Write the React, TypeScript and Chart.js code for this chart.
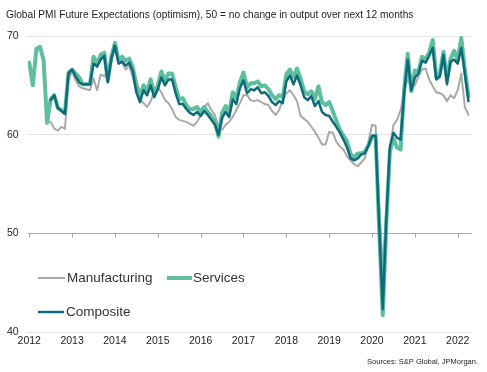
import React, { useEffect, useRef } from "react";
import { Chart, registerables } from "chart.js";

Chart.register(...registerables);

// Monthly data, Jan 2012 .. Apr 2022 (index 0 = Jan 2012)
const startYear = 2012;
const yearLabels = ["2012", "2013", "2014", "2015", "2016", "2017", "2018", "2019", "2020", "2021", "2022"];
const yTicks = [40, 50, 60, 70];

const services: (number | null)[] = [
  67.3, 65.0, 68.7, 68.9, 67.6, 61.2, 63.6, 64.0, 62.7, 62.5, 62.2, 66.3,
  66.6, 66.2, 65.8, 65.1, 65.1, 65.1, 67.9, 67.2, 68.1, 68.3, 65.5, 67.9,
  69.3, 67.6, 67.9, 67.5, 67.7, 66.8, 65.1, 63.9, 65.0, 64.4, 65.6, 64.2,
  65.0, 66.4, 65.5, 66.2, 66.2, 64.8, 63.6, 63.7, 63.0, 62.6, 62.6, 62.8,
  62.3, 62.8, 62.3, 61.9, 61.3, 59.8, 62.2, 62.9, 62.3, 64.3, 63.7, 65.3,
  66.3, 64.8, 65.2, 65.2, 65.4, 64.9, 65.0, 64.6, 64.0, 63.6, 64.0, 63.8,
  66.1, 66.6, 65.8, 66.7, 65.7, 64.4, 64.1, 64.4, 63.6, 64.9, 63.3, 63.0,
  63.3, 62.4, 61.4, 60.5, 59.9, 59.3, 58.0, 57.7, 58.1, 58.1, 58.3, 58.9,
  59.8, 59.9, 50.5, 41.7, 51.0, 58.3, 59.6, 58.7, 58.5, 64.6, 68.2, 64.4,
  66.5, 66.4, 67.9, 67.7, 68.3, 69.6, 65.8, 66.2, 68.4, 65.6, 67.7, 68.5,
  67.6, 69.8, 66.6, 63.9,
];

const composite: (number | null)[] = [
  null, null, null, null, null, null, 63.5, 64.0, 62.7, 62.4, 62.1, 66.2,
  66.6, 65.9, 65.3, 65.1, 65.1, 65.1, 67.2, 66.9, 67.6, 68.0, 65.3, 67.7,
  69.0, 67.2, 67.4, 67.0, 67.3, 66.4, 64.3, 63.3, 64.5, 64.0, 65.0, 63.8,
  64.6, 65.8, 65.0, 65.6, 65.6, 64.2, 63.1, 63.1, 62.6, 62.2, 62.0, 62.3,
  61.9, 62.4, 62.0, 61.5, 61.0, 60.0, 61.7, 62.3, 61.8, 63.6, 63.1, 64.7,
  65.5, 64.2, 64.6, 64.5, 64.8, 64.2, 64.3, 63.9, 63.3, 63.0, 63.4, 63.2,
  65.4, 66.0, 65.1, 66.0, 65.0, 63.8, 63.5, 63.9, 62.9, 63.4, 62.3, 62.0,
  61.9, 61.3, 60.8, 60.2, 59.5, 58.7, 57.6, 57.4, 57.6, 58.0, 58.1, 58.9,
  59.9, 59.9, 51.0, 42.3, 51.5, 58.8, 60.2, 59.7, 59.5, 64.2, 67.6, 64.5,
  65.8, 66.2, 67.5, 67.3, 68.0, 68.8, 65.6, 65.9, 68.1, 65.1, 67.4, 67.6,
  67.2, 68.8, 66.2, 63.4,
];

const manufacturing: (number | null)[] = [
  null, null, null, null, null, 61.3, 61.3, 60.6, 60.4, 60.8, 60.6, 65.6,
  66.4, 65.5, 64.9, 64.7, 64.6, 64.5, 65.7, 64.5, 66.1, 65.9, 66.5, 67.4,
  68.8, 67.9, 67.3, 66.6, 67.0, 65.8, 64.4, 63.6, 63.2, 62.8, 63.4, 64.3,
  64.8, 64.3, 63.5, 63.2, 62.6, 61.8, 61.5, 61.4, 61.3, 61.1, 60.9, 61.3,
  61.9, 62.8, 63.2, 62.5, 62.0, 60.8, 60.5, 61.0, 61.3, 61.8, 62.5, 63.2,
  64.0, 64.0, 63.5, 63.4, 63.5, 63.3, 63.1, 63.0, 62.4, 62.0, 62.5, 63.5,
  64.2, 64.5, 64.0, 63.4, 61.9, 61.6, 61.3, 60.8, 60.3, 59.7, 59.0, 59.0,
  60.3, 60.2, 59.3, 58.8, 58.5, 57.8, 57.4, 57.0, 56.8, 57.2, 57.6, 59.3,
  61.0, 60.9, 53.0, 46.5, 52.5, 58.5, 61.0, 61.5, 62.5, 64.3, 65.8, 64.6,
  65.0, 65.9, 66.6, 66.7, 65.6, 64.9, 64.3, 64.2, 64.0, 63.4, 64.0, 63.7,
  64.5, 66.2, 62.8, 62.0,
];

const COLORS = {
  manufacturing: "#a9a9a9",
  services: "#5dbf9d",
  composite: "#0f6a7c",
  grid: "#e4e4e4",
  axis: "#a6a6a6",
  text: "#1e1e1e",
};

const FONT = '"Liberation Sans", Arial, sans-serif';

const toPoints = (arr: (number | null)[]) => arr.map((v, i) => ({ x: i, y: v }));

const overlayPlugin = {
  id: "overlay",
  beforeDatasetsDraw(chart: any) {
    const { ctx, scales } = chart;
    const xs = scales.x;
    const y50 = scales.y.getPixelForValue(50);
    ctx.save();
    ctx.strokeStyle = COLORS.axis;
    ctx.lineWidth = 1;
    yearLabels.forEach((_, i) => {
      const x = Math.round(xs.getPixelForValue(i * 12)) + 0.5;
      ctx.beginPath();
      ctx.moveTo(x, y50);
      ctx.lineTo(x, y50 + 4);
      ctx.stroke();
    });
    ctx.restore();
  },
  afterDraw(chart: any) {
    const { ctx } = chart;
    ctx.save();
    // Title
    ctx.fillStyle = COLORS.text;
    ctx.font = `10.2px ${FONT}`;
    ctx.textBaseline = "middle";
    ctx.textAlign = "left";
    ctx.fillText(
      "Global PMI Future Expectations (optimism), 50 = no change in output over next 12 months",
      6,
      15
    );
    // Sources
    ctx.font = `7.5px ${FONT}`;
    ctx.textAlign = "right";
    ctx.fillText("Sources: S&P Global, JPMorgan.", 478, 362);

    // Legend
    const items = [
      { label: "Manufacturing", color: COLORS.manufacturing, w: 2, x1: 38, x2: 65, tx: 67, y: 278 },
      { label: "Services", color: COLORS.services, w: 4, x1: 167, x2: 192, tx: 193, y: 278 },
      { label: "Composite", color: COLORS.composite, w: 2.5, x1: 38, x2: 64, tx: 66, y: 312 },
    ];
    ctx.font = `13.5px ${FONT}`;
    ctx.textAlign = "left";
    items.forEach((it) => {
      ctx.strokeStyle = it.color;
      ctx.lineWidth = it.w;
      ctx.lineCap = "butt";
      ctx.beginPath();
      ctx.moveTo(it.x1, it.y);
      ctx.lineTo(it.x2, it.y);
      ctx.stroke();
      ctx.fillStyle = "#333333";
      ctx.fillText(it.label, it.tx, it.y);
    });
    ctx.restore();
  },
};

export default function App() {
  const ref = useRef<HTMLCanvasElement | null>(null);

  useEffect(() => {
    if (!ref.current) return;
    const chart = new Chart(ref.current, {
      type: "line",
      data: {
        datasets: [
          {
            label: "Manufacturing",
            data: toPoints(manufacturing),
            borderColor: COLORS.manufacturing,
            borderWidth: 2,
            order: 3,
          },
          {
            label: "Services",
            data: toPoints(services),
            borderColor: COLORS.services,
            borderWidth: 4,
            order: 2,
          },
          {
            label: "Composite",
            data: toPoints(composite),
            borderColor: COLORS.composite,
            borderWidth: 2.5,
            order: 1,
          },
        ] as any,
      },
      plugins: [overlayPlugin],
      options: {
        animation: false,
        responsive: false,
        devicePixelRatio: 1,
        events: [],
        layout: { padding: { left: 7, right: 15, top: 36, bottom: 22 } },
        elements: {
          point: { radius: 0 },
          line: { tension: 0, borderJoinStyle: "round", borderCapStyle: "round", fill: false },
        },
        plugins: {
          legend: { display: false },
          title: { display: false },
          tooltip: { enabled: false },
        },
        scales: {
          x: {
            type: "linear",
            min: -0.35,
            max: 124,
            grid: { display: false, drawTicks: false },
            border: { display: false },
            afterBuildTicks: (scale: any) => {
              scale.ticks = yearLabels.map((_, i) => ({ value: i * 12 }));
            },
            afterFit: (scale: any) => {
              scale.height = 18;
            },
            ticks: {
              autoSkip: false,
              maxRotation: 0,
              padding: 3,
              color: COLORS.text,
              font: { family: FONT, size: 10.5 },
              callback: (v: any) => String(startYear + Math.round(Number(v) / 12)),
            },
          },
          y: {
            type: "linear",
            min: 40,
            max: 70,
            afterBuildTicks: (scale: any) => {
              scale.ticks = yTicks.map((v) => ({ value: v }));
            },
            afterFit: (scale: any) => {
              scale.width = 21;
            },
            grid: {
              drawTicks: false,
              color: (c: any) => (c.tick && c.tick.value === 50 ? COLORS.axis : COLORS.grid),
              lineWidth: 1,
            },
            border: { display: false },
            ticks: {
              crossAlign: "far",
              padding: 0,
              color: COLORS.text,
              font: { family: FONT, size: 10.5 },
            },
          },
        },
      } as any,
    });
    return () => chart.destroy();
  }, []);

  return (
    <div style={{ position: "fixed", left: 0, top: 0, width: 487, height: 372, background: "#fff" }}>
      <canvas ref={ref} width={487} height={372} style={{ display: "block", width: 487, height: 372 }} />
    </div>
  );
}
